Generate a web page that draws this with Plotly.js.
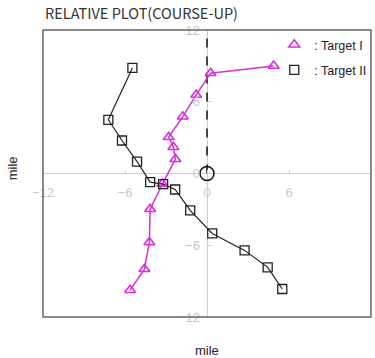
<!DOCTYPE html>
<html>
<head>
<meta charset="utf-8">
<script src="https://cdn.plot.ly/plotly-3.0.1.min.js"></script>
<style>html,body{margin:0;padding:0;background:#fff;}#chart{width:375px;height:358px;}</style>
</head>
<body>
<div id="chart"></div>
<script>
// Data
const tickVals = [-12, -6, 0, 6, 12];
const tickText = ["\u221212", "\u22126", "0", "6", "12"];
const targetIX = [-5.63, -4.58, -4.22, -4.16, -3.26, -2.31, -2.46, -2.80, -1.77, -0.79, 0.26, 4.88];
const targetIY = [-9.75, -8.00, -5.76, -2.98, -0.86, 1.20, 2.21, 3.04, 4.76, 6.57, 8.39, 9.00];
const targetIIX = [-5.46, -7.22, -6.22, -5.12, -4.16, -3.21, -2.33, -1.23, 0.38, 2.75, 4.44, 5.51];
const targetIIY = [8.83, 4.49, 2.76, 1.00, -0.72, -0.89, -1.34, -3.09, -5.01, -6.43, -7.85, -9.66];
const ownX = [0];
const ownY = [0];
const headingX = [0, 0];
const headingY = [0, 12];

const magenta = '#d92ed9';
const black = '#222222';

const traces = [
  {x: headingX, y: headingY, mode: 'lines', line: {color: '#111', width: 1.5, dash: 'dash'}, showlegend: false, hoverinfo: 'skip'},
  {x: targetIX, y: targetIY, mode: 'lines', line: {color: magenta, width: 1.5}, showlegend: false},
  {x: targetIIX, y: targetIIY, mode: 'lines', line: {color: black, width: 1.2}, showlegend: false},
  {x: targetIX, y: targetIY, mode: 'markers', name: ': Target I', legendgroup: 'a',
   marker: {symbol: 'triangle-up-open', size: 9.5, color: magenta, line: {color: magenta, width: 1.6}}},
  {x: targetIIX, y: targetIIY, mode: 'markers', name: ': Target II', legendgroup: 'b',
   marker: {symbol: 'square-open', size: 9, color: black, line: {color: black, width: 1.3}}},
  {x: ownX, y: ownY, mode: 'markers', showlegend: false,
   marker: {symbol: 'circle-open', size: 14, color: '#111', line: {color: '#111', width: 1.5}}}
];

const axisCommon = {
  range: [-12, 12],
  tickvals: tickVals,
  ticktext: tickText,
  showgrid: false,
  zeroline: true,
  zerolinecolor: '#cfcfcf',
  zerolinewidth: 1,
  showline: false,
  ticks: 'inside',
  ticklen: 4,
  tickcolor: '#cfcfcf',
  tickfont: {family: 'Liberation Sans, Arial, sans-serif', size: 13, color: '#c8c8c8'},
  anchor: 'free',
  position: 0.5,
  automargin: false,
  fixedrange: true
};

const layout = {
  width: 375,
  height: 358,
  margin: {l: 43, r: 4, t: 30, b: 41},
  paper_bgcolor: '#ffffff',
  plot_bgcolor: '#ffffff',
  title: {text: 'RELATIVE PLOT(COURSE-UP)', x: 0.12, xanchor: 'left', y: 0.962, yanchor: 'middle',
          font: {family: 'Noto Sans CJK JP, sans-serif', size: 14.5, color: '#333'}},
  xaxis: Object.assign({}, axisCommon, {ticklabelstandoff: 9}),
  yaxis: Object.assign({}, axisCommon, {ticklabelstandoff: 7}),
  showlegend: true,
  legend: {x: 0.705, y: 1.0, xanchor: 'left', yanchor: 'top', bgcolor: 'rgba(0,0,0,0)',
           font: {family: 'Liberation Sans, Arial, sans-serif', size: 12.5, color: '#222'},
           traceorder: 'grouped', tracegroupgap: 6, itemwidth: 30},
  shapes: [
    {type: 'rect', xref: 'paper', yref: 'paper', x0: 0, x1: 1, y0: 0, y1: 1,
     line: {color: '#666', width: 1.5}, layer: 'above'}
  ],
  annotations: [
    {text: 'mile', xref: 'paper', yref: 'paper', x: 0.5, y: -0.115, xanchor: 'center', yanchor: 'middle',
     showarrow: false, font: {family: 'Liberation Sans, Arial, sans-serif', size: 13, color: '#222'}},
    {text: 'mile', xref: 'paper', yref: 'paper', x: -0.093, y: 0.52, xanchor: 'center', yanchor: 'middle',
     textangle: -90, showarrow: false, font: {family: 'Liberation Sans, Arial, sans-serif', size: 13, color: '#222'}}
  ]
};

Plotly.newPlot('chart', traces, layout, {displayModeBar: false, staticPlot: true});
</script>
</body>
</html>
